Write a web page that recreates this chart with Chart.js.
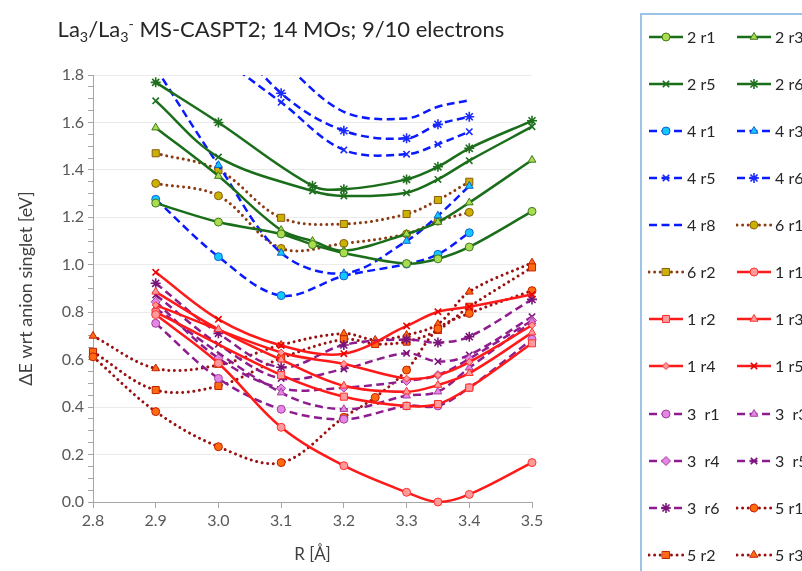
<!DOCTYPE html>
<html>
<head>
<meta charset="utf-8">
<script src="https://cdn.jsdelivr.net/npm/chart.js@4.4.1/dist/chart.umd.min.js"></script>
<style>
  html, body { margin: 0; padding: 0; background: #fff; overflow: hidden; }
  #wrap { position: relative; width: 802px; height: 571px; overflow: hidden; font-family: Lato, 'Liberation Sans', sans-serif; }
  #title { position: absolute; left: 0; top: 15px; width: 562px; text-align: center; font-size: 22px; color: #262626; white-space: nowrap; }
  #title sub, #title sup { font-size: 0.65em; line-height: 0; }
  #legendBox { position: absolute; left: 640px; top: 13px; width: 220px; height: 600px; border: 2px solid #9dc3e6; box-sizing: border-box; }
  .item { position: absolute; height: 20px; font-size: 16px; color: #262626; white-space: pre; }
  .item canvas { position: absolute; left: 0; top: 1px; }
  .item span { position: absolute; left: 39px; top: 0; line-height: 20px; }
  #chart { position: absolute; left: 0; top: 0; }
</style>
</head>
<body>
<div id="wrap">
  <canvas id="chart" width="802" height="571"></canvas>
  <div id="title">La<sub>3</sub>/La<sub>3</sub><sup>-</sup> MS-CASPT2; 14 MOs; 9/10 electrons</div>
  <div id="legendBox"></div>
</div>
<script>
// bond length grid (Angstrom); null = no point at that R for the series
const R = [2.8, 2.9, 3.0, 3.1, 3.15, 3.2, 3.25, 3.3, 3.35, 3.4, 3.5];

// 2 - green solid
const s2r1 = [null, 1.26, 1.18, 1.13, 1.085, 1.05, null, 1.005, 1.025, 1.075, 1.225];
const s2r3 = [null, 1.578, 1.374, 1.146, 1.10, 1.059, null, 1.13, 1.18, 1.262, 1.442];
const s2r5 = [null, 1.691, 1.454, null, 1.311, 1.29, null, 1.304, 1.36, 1.439, 1.582];
const s2r6 = [null, 1.769, 1.60, null, 1.333, 1.318, null, 1.36, 1.413, 1.491, 1.607];
// 4 - blue dashed
const s4r1 = [null, 1.276, 1.034, 0.87, null, 0.953, null, 1.003, 1.044, 1.135, null];
const s4r3 = [null, 1.83, 1.42, 1.05, null, 0.964, null, 1.10, 1.207, 1.332, null];
const s4r5 = [null, null, 1.88, 1.685, null, 1.484, null, 1.466, 1.508, 1.561, null];
const s4r6 = [null, null, 2.03, 1.723, null, 1.565, null, 1.533, 1.592, 1.624, null];
const s4r8 = [null, null, null, 1.86, null, 1.645, null, 1.617, 1.666, 1.694, null];
// 6 - brown dotted
const s6r1 = [null, 1.343, 1.291, 1.069, null, 1.09, null, 1.13, 1.184, 1.221, null];
const s6r2 = [null, 1.47, 1.40, 1.198, null, 1.172, null, 1.214, 1.273, 1.35, null];
// 1 - red solid
const s1r1 = [null, 0.79, 0.585, 0.315, null, 0.153, null, 0.041, 0.0, 0.032, 0.166];
const s1r2 = [null, 0.80, null, 0.535, null, 0.444, null, 0.405, 0.413, 0.482, 0.669];
const s1r3 = [null, 0.886, 0.728, 0.60, null, 0.49, null, 0.465, 0.493, 0.543, 0.714];
const s1r4 = [null, 0.83, null, 0.63, null, 0.582, null, 0.52, 0.535, 0.59, 0.745];
const s1r5 = [null, 0.968, 0.77, 0.66, null, 0.625, null, 0.742, 0.802, 0.823, 0.875];
// 3 - purple dashed
const s3r1 = [null, 0.753, 0.521, 0.391, null, 0.349, null, 0.405, 0.405, 0.482, 0.686];
const s3r3 = [null, 0.816, null, 0.461, null, 0.391, null, 0.448, 0.465, 0.566, 0.76];
const s3r4 = [null, 0.844, 0.606, 0.479, null, 0.482, null, 0.51, 0.535, 0.604, 0.765];
const s3r5 = [null, 0.873, 0.665, 0.521, null, 0.561, null, 0.627, 0.592, 0.62, 0.781];
const s3r6 = [null, 0.922, 0.711, 0.568, null, 0.662, null, 0.685, 0.672, 0.697, 0.854];
// 5 - dark red dotted
const s5r1 = [0.612, 0.381, 0.233, 0.166, null, 0.357, 0.441, 0.556, 0.73, 0.795, 0.891];
const s5r2 = [0.633, 0.472, 0.489, 0.606, null, 0.686, 0.666, 0.676, 0.725, 0.823, 0.989];
const s5r3 = [0.70, 0.563, 0.577, 0.662, null, 0.71, 0.683, 0.704, 0.75, 0.886, 1.009];

const xTicks = [2.8, 2.9, 3.0, 3.1, 3.2, 3.3, 3.4, 3.5];

// line families
const looks = {
    '2': { line: '#1a6e1a', dash: [], cap: 'butt', width: 2.5, fill: '#a9dc4f', edge: '#3d7a1e', cross: '#1f6f1f' },
    '4': { line: '#0a1aff', dash: [8, 4.5], cap: 'butt', width: 2.5, fill: '#14c8ff', edge: '#1060d0', cross: '#1a2aff' },
    '6': { line: '#8b3a12', dash: [0.01, 5.6], cap: 'round', width: 3, fill: '#c9b300', edge: '#8b5a10', cross: '#8b3a12' },
    '1': { line: '#ff1a1a', dash: [], cap: 'butt', width: 2.5, fill: '#ff9a9a', edge: '#ff3030', cross: '#ee0000' },
    '3': { line: '#8e1c8e', dash: [8, 4.5], cap: 'butt', width: 2.5, fill: '#e586e5', edge: '#a040a0', cross: '#7a147a' },
    '5': { line: '#9a1010', dash: [0.01, 5.6], cap: 'round', width: 3, fill: '#ff6a10', edge: '#c02000', cross: '#9a1010' }
};

const series = [
    ['2 r1', s2r1, '2', 'circle'], ['2 r3', s2r3, '2', 'triangle'],
    ['2 r5', s2r5, '2', 'crossRot'], ['2 r6', s2r6, '2', 'star'],
    ['4 r1', s4r1, '4', 'circle'], ['4 r3', s4r3, '4', 'triangle'],
    ['4 r5', s4r5, '4', 'crossRot'], ['4 r6', s4r6, '4', 'star'],
    ['4 r8', s4r8, '4', false], ['6 r1', s6r1, '6', 'circle'],
    ['6 r2', s6r2, '6', 'rect'], ['1 r1', s1r1, '1', 'circle'],
    ['1 r2', s1r2, '1', 'rect'], ['1 r3', s1r3, '1', 'triangle'],
    ['1 r4', s1r4, '1', 'rectRot'], ['1 r5', s1r5, '1', 'crossRot'],
    ['3  r1', s3r1, '3', 'circle'], ['3  r3', s3r3, '3', 'triangle'],
    ['3  r4', s3r4, '3', 'rectRot'], ['3  r5', s3r5, '3', 'crossRot'],
    ['3  r6', s3r6, '3', 'star'], ['5 r1', s5r1, '5', 'circle'],
    ['5 r2', s5r2, '5', 'rect'], ['5 r3', s5r3, '5', 'triangle']
];

const radii = { circle: 4, triangle: 4.5, rect: 5, rectRot: 4.5, crossRot: 4.5, star: 5 };

const datasets = series.map(([label, vals, fam, style]) => {
    const lk = looks[fam];
    const isCross = style === 'crossRot' || style === 'star';
    let r = style ? radii[style] : 0;
    if (label === '1 r4') r = 3.5;
    return {
        label: label,
        data: R.map((x, i) => ({ x: x, y: vals[i] })).filter(p => p.y !== null),
        showLine: true,
        fill: false,
        tension: 0.35,
        borderColor: lk.line,
        borderWidth: lk.width,
        borderDash: lk.dash,
        borderCapStyle: lk.cap,
        pointStyle: style || 'circle',
        pointRadius: r,
        pointBackgroundColor: isCross ? lk.cross : lk.fill,
        pointBorderColor: isCross ? lk.cross : lk.edge,
        pointBorderWidth: isCross ? 1.6 : 1,
        clip: { left: 6, top: 0, right: 6, bottom: 6 }
    };
});

const isMajor = v => Math.round(v * 100) % 20 === 0;

new Chart(document.getElementById('chart'), {
    type: 'scatter',
    data: { datasets: datasets },
    options: {
        responsive: false,
        animation: false,
        events: [],
        layout: { padding: { left: 0, top: 75, right: 270, bottom: 0 } },
        elements: { line: { capBezierPoints: false } },
        plugins: { legend: { display: false }, tooltip: { enabled: false } },
        scales: {
            x: {
                type: 'linear',
                min: 2.8,
                max: 3.5,
                afterFit: s => { s.height = 69; },
                afterBuildTicks: s => { s.ticks = xTicks.map(v => ({ value: v })); },
                ticks: {
                    callback: v => v.toFixed(1),
                    color: '#595959',
                    font: { family: 'Lato', size: 16 },
                    padding: 3
                },
                grid: { drawOnChartArea: false, tickLength: 6, tickColor: '#a6a6a6' },
                border: { color: '#a6a6a6', width: 1 },
                title: {
                    display: true,
                    text: 'R [Å]',
                    color: '#404040',
                    font: { family: 'Lato', size: 17 },
                    padding: { top: 0, bottom: 6 }
                }
            },
            y: {
                min: 0,
                max: 1.8,
                afterFit: s => { s.width = 93; },
                ticks: {
                    stepSize: 0.05,
                    autoSkip: false,
                    callback: v => isMajor(v) ? v.toFixed(1) : '',
                    color: '#595959',
                    font: { family: 'Lato', size: 16 },
                    padding: 4
                },
                grid: {
                    color: c => (c.tick && isMajor(c.tick.value)) ? '#ebebeb' : 'rgba(0,0,0,0)',
                    tickColor: '#a6a6a6',
                    tickLength: 5
                },
                border: { color: '#a6a6a6', width: 1 },
                title: {
                    display: true,
                    text: 'ΔE wrt anion singlet [eV]',
                    color: '#404040',
                    font: { family: 'Lato', size: 18 },
                    padding: { top: 15, bottom: 0 }
                }
            }
        }
    }
});

// legend, two columns, row-major like the original
const wrap = document.getElementById('wrap');
function drawMark(ctx, ds, x, y) {
    if (!ds.pointRadius) return;
    ctx.save();
    ctx.setLineDash([]);
    ctx.fillStyle = ds.pointBackgroundColor;
    ctx.strokeStyle = ds.pointBorderColor;
    ctx.lineWidth = ds.pointBorderWidth;
    if (Chart.helpers && Chart.helpers.drawPoint) {
        Chart.helpers.drawPoint(ctx, { pointStyle: ds.pointStyle, radius: ds.pointRadius, rotation: 0, borderWidth: ds.pointBorderWidth }, x, y);
    } else {
        ctx.beginPath();
        ctx.arc(x, y, ds.pointRadius, 0, Math.PI * 2);
        ctx.fill();
        ctx.stroke();
    }
    ctx.restore();
}
datasets.forEach((ds, i) => {
    const row = Math.floor(i / 2), col = i % 2;
    const item = document.createElement('div');
    item.className = 'item';
    item.style.left = (col ? 736 : 648) + 'px';
    item.style.top = (36.7 + row * 47.1 - 10) + 'px';
    const cv = document.createElement('canvas');
    cv.width = 36; cv.height = 18;
    const ctx = cv.getContext('2d');
    ctx.strokeStyle = ds.borderColor;
    ctx.lineWidth = ds.borderWidth;
    ctx.lineCap = ds.borderCapStyle;
    ctx.setLineDash(ds.borderDash);
    ctx.beginPath();
    ctx.moveTo(1, 9);
    ctx.lineTo(35, 9);
    ctx.stroke();
    drawMark(ctx, ds, 18, 9);
    const sp = document.createElement('span');
    sp.textContent = ds.label;
    item.appendChild(cv);
    item.appendChild(sp);
    wrap.appendChild(item);
});
</script>
</body>
</html>
